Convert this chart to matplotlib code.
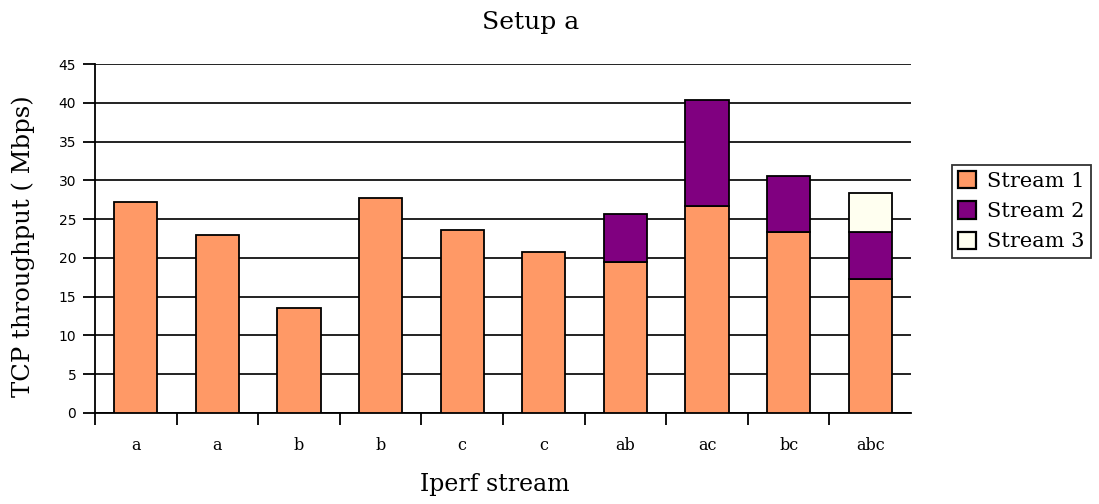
import matplotlib.pyplot as plt
import numpy as np

# data
categories = ['a', 'a', 'b', 'b', 'c', 'c', 'ab', 'ac', 'bc', 'abc']
stream1 = [27.2, 22.9, 13.6, 27.7, 23.6, 20.7, 19.5, 26.7, 23.3, 17.3]
stream2 = [0, 0, 0, 0, 0, 0, 6.2, 13.6, 7.3, 6.0]
stream3 = [0, 0, 0, 0, 0, 0, 0, 0, 0, 5.1]
series_names = ['Stream 1', 'Stream 2', 'Stream 3']
colors = ['#FF9966', '#800080', '#FFFFF0']

serif = 'DejaVu Serif'

fig = plt.figure(figsize=(10.99, 5.04), dpi=100)
ax = fig.add_axes([0.0864, 0.1806, 0.7426, 0.6924])

x = np.arange(len(categories))
w = 0.53
s1 = np.array(stream1)
s2 = np.array(stream2)
s3 = np.array(stream3)

handles = []
h = ax.bar(x, s1, w, color=colors[0], edgecolor='black', linewidth=1.3, zorder=3)
handles.append(h)
m2 = s2 > 0
h = ax.bar(x[m2], s2[m2], w, bottom=s1[m2], color=colors[1], edgecolor='black', linewidth=1.3, zorder=3)
handles.append(h)
m3 = s3 > 0
h = ax.bar(x[m3], s3[m3], w, bottom=(s1 + s2)[m3], color=colors[2], edgecolor='black', linewidth=1.3, zorder=3)
handles.append(h)

ax.set_xlim(-0.5, len(categories) - 0.5)
ax.set_ylim(0, 45)
ax.set_yticks(np.arange(0, 46, 5))
ax.yaxis.grid(True, color='#111111', linewidth=1.3, zorder=0)
ax.set_axisbelow(True)

# category labels centred, ticks at the boundaries
ax.set_xticks(x)
ax.set_xticklabels(categories, fontfamily=serif, fontsize=11.5)
ax.tick_params(axis='x', which='major', length=0, pad=17)
ax.set_xticks(np.arange(-0.5, len(categories) - 0.6, 1), minor=True)
ax.tick_params(axis='x', which='minor', length=8.5, width=1.3, direction='out')
ax.tick_params(axis='y', length=8.5, width=1.3, labelsize=10, pad=5)

for side in ['top', 'right']:
    ax.spines[side].set_visible(False)
ax.spines['left'].set_linewidth(1.3)
ax.spines['bottom'].set_linewidth(1.3)

fig.text(0.483, 0.956, 'Setup a', ha='center', va='center', fontfamily=serif, fontsize=18)
fig.text(0.45, 0.038, 'Iperf stream', ha='center', va='center', fontfamily=serif, fontsize=17)
fig.text(0.021, 0.512, 'TCP throughput ( Mbps)', ha='center', va='center', rotation=90,
         fontfamily=serif, fontsize=17.5)

leg = fig.legend(handles, series_names, loc='upper left', bbox_to_anchor=(0.866, 0.673),
                 prop={'family': serif, 'size': 15}, frameon=True, fancybox=False,
                 edgecolor='black', handlelength=0.85, handleheight=0.9, handletextpad=0.55,
                 borderpad=0.3, labelspacing=0.5, borderaxespad=0)
leg.get_frame().set_linewidth(1.3)
for p in leg.get_patches():
    p.set_linewidth(1.6)

fig.savefig('out.png', dpi=100)
